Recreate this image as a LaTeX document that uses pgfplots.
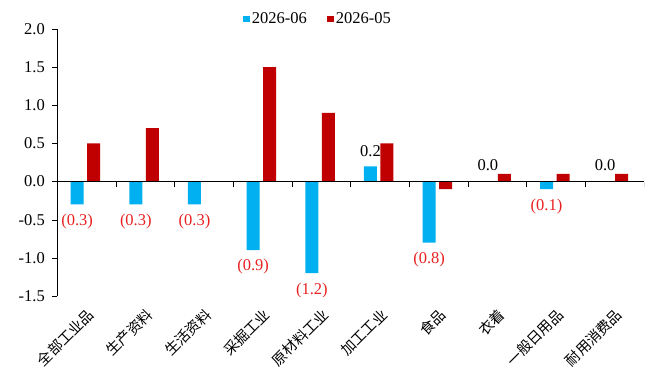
\documentclass[border=0pt]{standalone}
\usepackage{pgfplots}
\pgfplotsset{compat=1.18}
\usepackage{fontspec}
\setmainfont{Liberation Serif}
\newfontfamily\cjk{Noto Sans CJK SC}
\definecolor{cblue}{RGB}{0,176,240}
\definecolor{cred}{RGB}{192,0,0}
\definecolor{lred}{RGB}{232,32,32}
\newcommand{\fs}{\fontsize{16.5}{16.5}\selectfont}
\newcommand{\fc}{\fontsize{14.5}{14.5}\selectfont}
\begin{document}
\begin{tikzpicture}
\path[use as bounding box] (0,0) rectangle (652pt,380pt);
\begin{axis}[
  at={(57.3pt,84pt)}, anchor=south west,
  scale only axis, width=586.7pt, height=267pt,
  xmin=-0.5, xmax=9.5, ymin=-1.5, ymax=2.0,
  ybar, bar width=13pt,
  axis y line=left, y axis line style={-, black},
  axis x line=bottom, x axis line style={draw=none},
  xtick={0,1,2,3,4,5,6,7,8,9},
  xticklabels={全部工业品,生产资料,生活资料,采掘工业,原材料工业,加工工业,食品,衣着,一般日用品,耐用消费品},
  xtick style={draw=none},
  xticklabel style={rotate=45, anchor=east, font=\cjk\fc, yshift=-11pt, xshift=-1pt},
  ytick={-1.5,-1,-0.5,0,0.5,1,1.5,2},
  ytick style={black, thin},
  tick align=outside, major tick length=5pt,
  yticklabel style={font=\fs, xshift=-4pt},
  /pgf/number format/.cd, fixed, fixed zerofill, precision=1, assume math mode=true,
  /pgfplots/.cd,
  legend style={at={(0.444,1.037)}, anchor=center, draw=none, fill=none,
    legend columns=2, font=\fs,
    /tikz/every even column/.append style={column sep=18pt}},
  legend image code/.code={\fill[#1] (0pt,-3pt) rectangle (7pt,3.5pt);},
]
\addplot[fill=cblue, draw=none, bar shift=-9.5pt] coordinates {
  (0,-0.3) (1,-0.3) (2,-0.3) (3,-0.9) (4,-1.2) (5,0.2) (6,-0.8) (7,0.0) (8,-0.1) (9,0.0)};
\addplot[fill=cred, draw=none, bar shift=7pt] coordinates {
  (0,0.5) (1,0.7) (2,0.0) (3,1.5) (4,0.9) (5,0.5) (6,-0.1) (7,0.1) (8,0.1) (9,0.1)};
\legend{2026-06,2026-05}
\draw[black, thin] (axis cs:-0.5,0) -- (axis cs:9.5,0);
\pgfplotsinvokeforeach{0.5,1.5,2.5,3.5,4.5,5.5,6.5,7.5,8.5,9.5}{
  \draw[black, thin] (axis cs:#1,0) -- ++(0pt,-5pt);
}
\begin{scope}[every node/.style={font=\fs, xshift=-9.5pt}]
\node[text=lred] at (axis cs:0,-0.53) {(0.3)};
\node[text=lred] at (axis cs:1,-0.53) {(0.3)};
\node[text=lred] at (axis cs:2,-0.53) {(0.3)};
\node[text=lred] at (axis cs:3,-1.12) {(0.9)};
\node[text=lred] at (axis cs:4,-1.43) {(1.2)};
\node[text=black] at (axis cs:5,0.40) {0.2};
\node[text=lred] at (axis cs:6,-1.02) {(0.8)};
\node[text=black] at (axis cs:7,0.22) {0.0};
\node[text=lred] at (axis cs:8,-0.33) {(0.1)};
\node[text=black] at (axis cs:9,0.22) {0.0};
\end{scope}
\end{axis}
\end{tikzpicture}
\end{document}
